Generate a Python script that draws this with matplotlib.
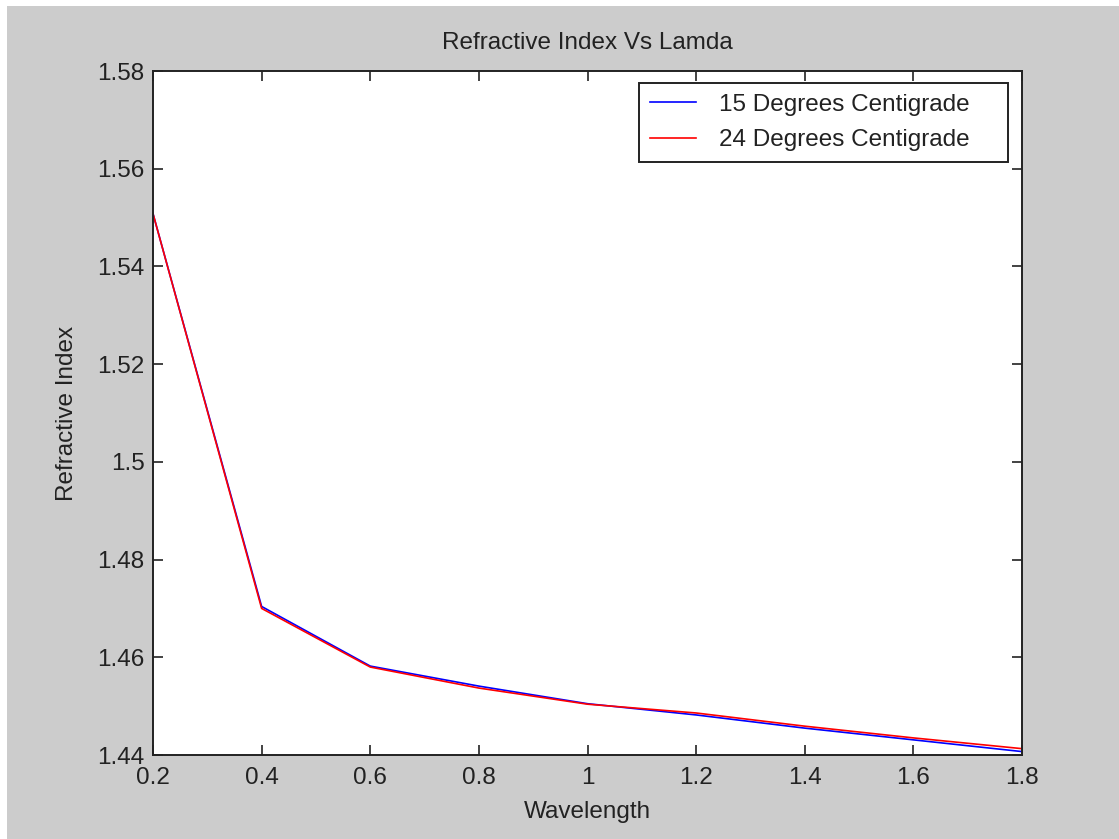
import matplotlib
matplotlib.use('Agg')
import matplotlib.pyplot as plt
from matplotlib.patches import Rectangle

# values
wavelength = [0.2, 0.4, 0.6, 0.8, 1.0, 1.2, 1.4, 1.6, 1.8]
n_15 = [1.5508, 1.4704, 1.4582, 1.4541, 1.4505, 1.4482, 1.4455, 1.4431, 1.4407]
n_24 = [1.5508, 1.4700, 1.4580, 1.4537, 1.4504, 1.4486, 1.4459, 1.4435, 1.4413]
labels = ['15 Degrees Centigrade', '24 Degrees Centigrade']
x_ticks = [0.2, 0.4, 0.6, 0.8, 1.0, 1.2, 1.4, 1.6, 1.8]
x_tick_labels = ['0.2', '0.4', '0.6', '0.8', '1', '1.2', '1.4', '1.6', '1.8']
y_ticks = [1.44, 1.46, 1.48, 1.50, 1.52, 1.54, 1.56, 1.58]
y_tick_labels = ['1.44', '1.46', '1.48', '1.5', '1.52', '1.54', '1.56', '1.58']

plt.rcParams['font.family'] = ['Liberation Sans', 'DejaVu Sans']
fs = 17.5
W, H = 1119, 839

fig = plt.figure(figsize=(W / 100, H / 100), dpi=100, facecolor='white')
# gray MATLAB figure background, thin white strip at top and left
fig.patches.append(Rectangle((7 / W, 0), 1, 1 - 6 / H, transform=fig.transFigure,
                             facecolor='#cccccc', edgecolor='none', zorder=-10))

ax = fig.add_axes([153 / W, 1 - 755 / H, (1022 - 153) / W, (755 - 71) / H])
ax.plot(wavelength, n_15, color='#0000ff', lw=1.2, label=labels[0])
ax.plot(wavelength, n_24, color='#ff0000', lw=1.2, label=labels[1])

ax.set_xlim(0.2, 1.8)
ax.set_ylim(1.44, 1.58)
ax.set_xticks(x_ticks)
ax.set_xticklabels(x_tick_labels)
ax.set_yticks(y_ticks)
ax.set_yticklabels(y_tick_labels)
ax.tick_params(direction='in', length=7, width=1.2, color='#222222',
               top=True, right=True, labelsize=fs, labelcolor='#222222')
ax.tick_params(axis='x', pad=9)
ax.tick_params(axis='y', pad=6)
for s in ax.spines.values():
    s.set_linewidth(1.4)
    s.set_color('#222222')

ax.set_title('Refractive Index Vs Lamda', fontsize=fs, color='#222222', pad=16)
ax.set_xlabel('Wavelength', fontsize=fs, color='#222222', labelpad=8)
ax.set_ylabel('Refractive Index', fontsize=fs, color='#222222', labelpad=14)

# legend box spans x 639..1008, y 83..157 px in the reference
leg = ax.legend(loc='upper left',
                bbox_to_anchor=(639 / W, 1 - 157 / H, (1008 - 639) / W, (157 - 83) / H),
                bbox_transform=fig.transFigure, mode='expand', fontsize=fs,
                frameon=True, fancybox=False, borderaxespad=0, handlelength=1.9,
                handletextpad=0.95, borderpad=0.45, labelspacing=0.55)
leg.get_frame().set_edgecolor('#222222')
leg.get_frame().set_linewidth(1.4)
leg.get_frame().set_alpha(1)
for t in leg.get_texts():
    t.set_color('#222222')

fig.savefig('out.png', dpi=100, facecolor=fig.get_facecolor())
